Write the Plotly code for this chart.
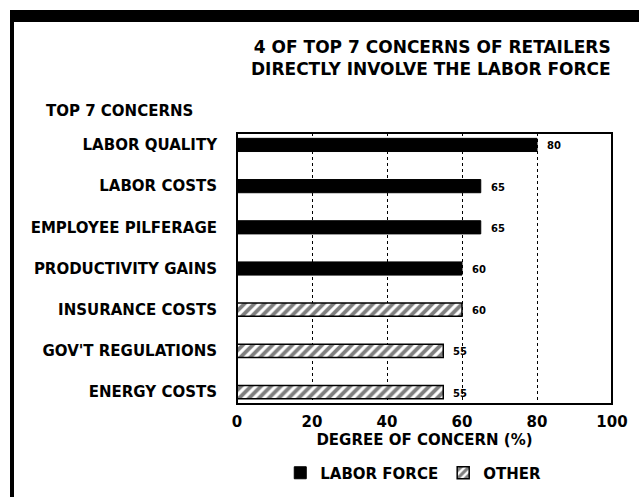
import plotly.graph_objects as go

# Retailer concerns, top to bottom
concerns = ["LABOR QUALITY", "LABOR COSTS", "EMPLOYEE PILFERAGE", "PRODUCTIVITY GAINS",
            "INSURANCE COSTS", "GOV'T REGULATIONS", "ENERGY COSTS"]
degree = [80, 65, 65, 60, 60, 55, 55]
group = ["LABOR FORCE", "LABOR FORCE", "LABOR FORCE", "LABOR FORCE", "OTHER", "OTHER", "OTHER"]
x_ticks = [0, 20, 40, 60, 80, 100]

W, H = 639, 497
L, R, T, B = 237, 27, 133, 93
PW, PH = W - L - R, H - T - B
FONT = "DejaVu Sans"


def fnt(size):
    return dict(family=FONT, size=size, color="black", weight="bold")


def px_x(p):
    return (p - L) / PW


def px_y(p):
    return 1 - (p - T) / PH


lab_y = [c for c, g in zip(concerns, group) if g == "LABOR FORCE"]
lab_x = [v for v, g in zip(degree, group) if g == "LABOR FORCE"]
oth_y = [c for c, g in zip(concerns, group) if g == "OTHER"]
oth_x = [v for v, g in zip(degree, group) if g == "OTHER"]

fig = go.Figure()
fig.add_trace(go.Bar(
    name="LABOR FORCE", y=lab_y, x=lab_x, orientation="h", width=0.32,
    marker=dict(color="black", line=dict(color="black", width=1)),
))
fig.add_trace(go.Bar(
    name="OTHER", y=oth_y, x=oth_x, orientation="h", width=0.32,
    marker=dict(color="white", line=dict(color="black", width=1.5),
                pattern=dict(shape="/", fgcolor="black", bgcolor="white",
                             size=7, solidity=0.55)),
))

annotations = []
for c, v in zip(concerns, degree):
    annotations.append(dict(x=v, y=c, xref="x", yref="y", text=str(v),
                            showarrow=False, xanchor="left", xshift=8, yshift=-1,
                            font=fnt(10)))

annotations.append(dict(x=px_x(613), y=px_y(58), xref="paper", yref="paper",
                        text="4 OF TOP 7 CONCERNS OF RETAILERS<br>DIRECTLY INVOLVE THE LABOR FORCE",
                        showarrow=False, xanchor="right", yanchor="middle", align="right",
                        font=fnt(17)))
annotations.append(dict(x=px_x(44), y=px_y(111), xref="paper", yref="paper",
                        text="TOP 7 CONCERNS", showarrow=False,
                        xanchor="left", yanchor="middle", font=fnt(15)))

shapes = [
    # heavy top rule and left rule of the frame
    dict(type="rect", xref="paper", yref="paper", x0=px_x(10), x1=px_x(W + 2),
         y0=px_y(22), y1=px_y(10), fillcolor="black", line=dict(width=0)),
    dict(type="rect", xref="paper", yref="paper", x0=px_x(10), x1=px_x(14),
         y0=px_y(H + 2), y1=px_y(10), fillcolor="black", line=dict(width=0)),
    # plot border
    dict(type="rect", xref="paper", yref="paper", x0=0, x1=1, y0=0, y1=1,
         line=dict(color="black", width=2), layer="above"),
]

fig.update_layout(
    width=W, height=H,
    margin=dict(l=L, r=R, t=T, b=B, pad=0, autoexpand=False),
    paper_bgcolor="white", plot_bgcolor="white",
    barmode="overlay",
    showlegend=True,
    legend=dict(orientation="h", x=0.47, xanchor="center", y=px_y(473), yanchor="middle",
                font=fnt(15), itemwidth=30, traceorder="normal"),
    annotations=annotations,
    shapes=shapes,
    font=dict(family=FONT, color="black"),
)
fig.update_xaxes(
    range=[0, 100], tickvals=x_ticks, ticktext=[str(t) for t in x_ticks],
    tickfont=fnt(15), automargin=False,
    showgrid=True, gridcolor="black", griddash="dot", gridwidth=1,
    zeroline=False, showline=False, ticks="", ticklabelstandoff=7,
    title=dict(text="DEGREE OF CONCERN (%)", font=fnt(15), standoff=2),
)
fig.update_yaxes(
    categoryorder="array", categoryarray=concerns,
    range=[len(concerns) - 1 + 0.29, -0.29],
    tickvals=concerns, ticktext=concerns,
    tickfont=fnt(15), automargin=False,
    showgrid=False, zeroline=False, showline=False, ticks="", ticklabelstandoff=19,
)

fig.write_html("out.html")
